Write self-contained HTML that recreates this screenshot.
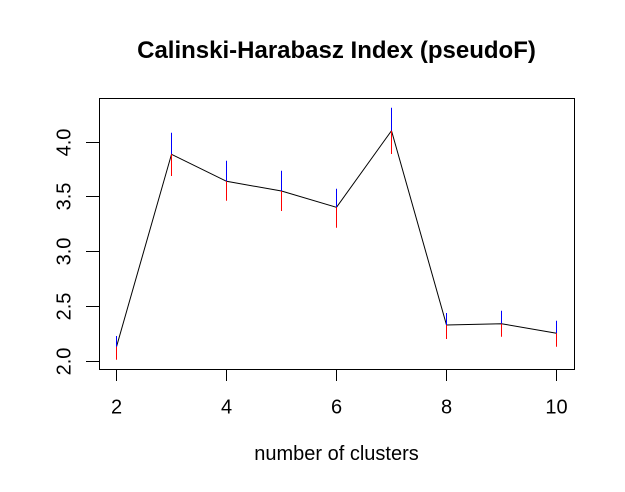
<!DOCTYPE html>
<html>
<head>
<meta charset="utf-8">
<style>
html,body{margin:0;padding:0;background:#fff;}
svg{display:block;}
text{font-family:"Liberation Sans",Arial,sans-serif;fill:#000;}
</style>
</head>
<body>
<svg width="625" height="492" viewBox="0 0 625 492" xmlns="http://www.w3.org/2000/svg">
<rect x="0" y="0" width="625" height="492" fill="#fff"/>
<!-- title -->
<text x="336.5" y="58" font-size="24" font-weight="bold" text-anchor="middle">Calinski-Harabasz Index (pseudoF)</text>
<!-- plot box -->
<rect x="99.5" y="98.5" width="475" height="271" fill="none" stroke="#000" stroke-width="1"/>
<!-- x ticks -->
<g stroke="#000" stroke-width="1">
<line x1="116.5" y1="369.5" x2="116.5" y2="381"/>
<line x1="226.5" y1="369.5" x2="226.5" y2="381"/>
<line x1="336.5" y1="369.5" x2="336.5" y2="381"/>
<line x1="446.5" y1="369.5" x2="446.5" y2="381"/>
<line x1="556.5" y1="369.5" x2="556.5" y2="381"/>
<!-- y ticks -->
<line x1="99.5" y1="142.5" x2="86" y2="142.5"/>
<line x1="99.5" y1="196.5" x2="86" y2="196.5"/>
<line x1="99.5" y1="251.5" x2="86" y2="251.5"/>
<line x1="99.5" y1="306.5" x2="86" y2="306.5"/>
<line x1="99.5" y1="361.5" x2="86" y2="361.5"/>
</g>
<!-- x tick labels -->
<g font-size="20" text-anchor="middle">
<text x="116.5" y="413.5">2</text>
<text x="226.5" y="413.5">4</text>
<text x="336.5" y="413.5">6</text>
<text x="446.5" y="413.5">8</text>
<text x="556.5" y="413.5">10</text>
</g>
<!-- y tick labels -->
<g font-size="20" text-anchor="middle">
<text transform="translate(70.5,142.5) rotate(-90)">4.0</text>
<text transform="translate(70.5,196.5) rotate(-90)">3.5</text>
<text transform="translate(70.5,251.5) rotate(-90)">3.0</text>
<text transform="translate(70.5,306.5) rotate(-90)">2.5</text>
<text transform="translate(70.5,361.5) rotate(-90)">2.0</text>
</g>
<!-- x axis label -->
<text x="336.5" y="460" font-size="20" text-anchor="middle">number of clusters</text>
<!-- data line -->
<polyline fill="none" stroke="#000" stroke-width="1"
 points="116.5,346.7 171.5,154.3 226.5,181.3 281.5,191 336.5,207.3 391.5,130.7 446.5,325 501.5,323.7 556.5,333.3"/>
<!-- error bars: blue up -->
<g stroke="#0000ff" stroke-width="1">
<line x1="116.5" y1="336" x2="116.5" y2="346.7"/>
<line x1="171.5" y1="132.7" x2="171.5" y2="154.3"/>
<line x1="226.5" y1="160.7" x2="226.5" y2="181.3"/>
<line x1="281.5" y1="170.7" x2="281.5" y2="191"/>
<line x1="336.5" y1="188.7" x2="336.5" y2="207.3"/>
<line x1="391.5" y1="107.7" x2="391.5" y2="130.7"/>
<line x1="446.5" y1="313" x2="446.5" y2="325"/>
<line x1="501.5" y1="310.7" x2="501.5" y2="323.7"/>
<line x1="556.5" y1="320.7" x2="556.5" y2="333.3"/>
</g>
<!-- error bars: red down -->
<g stroke="#ff0000" stroke-width="1">
<line x1="116.5" y1="346.7" x2="116.5" y2="359.7"/>
<line x1="171.5" y1="154.3" x2="171.5" y2="176"/>
<line x1="226.5" y1="181.3" x2="226.5" y2="200.7"/>
<line x1="281.5" y1="191" x2="281.5" y2="211"/>
<line x1="336.5" y1="207.3" x2="336.5" y2="227.7"/>
<line x1="391.5" y1="130.7" x2="391.5" y2="154"/>
<line x1="446.5" y1="325" x2="446.5" y2="339"/>
<line x1="501.5" y1="323.7" x2="501.5" y2="336.7"/>
<line x1="556.5" y1="333.3" x2="556.5" y2="346.7"/>
</g>
</svg>
</body>
</html>
